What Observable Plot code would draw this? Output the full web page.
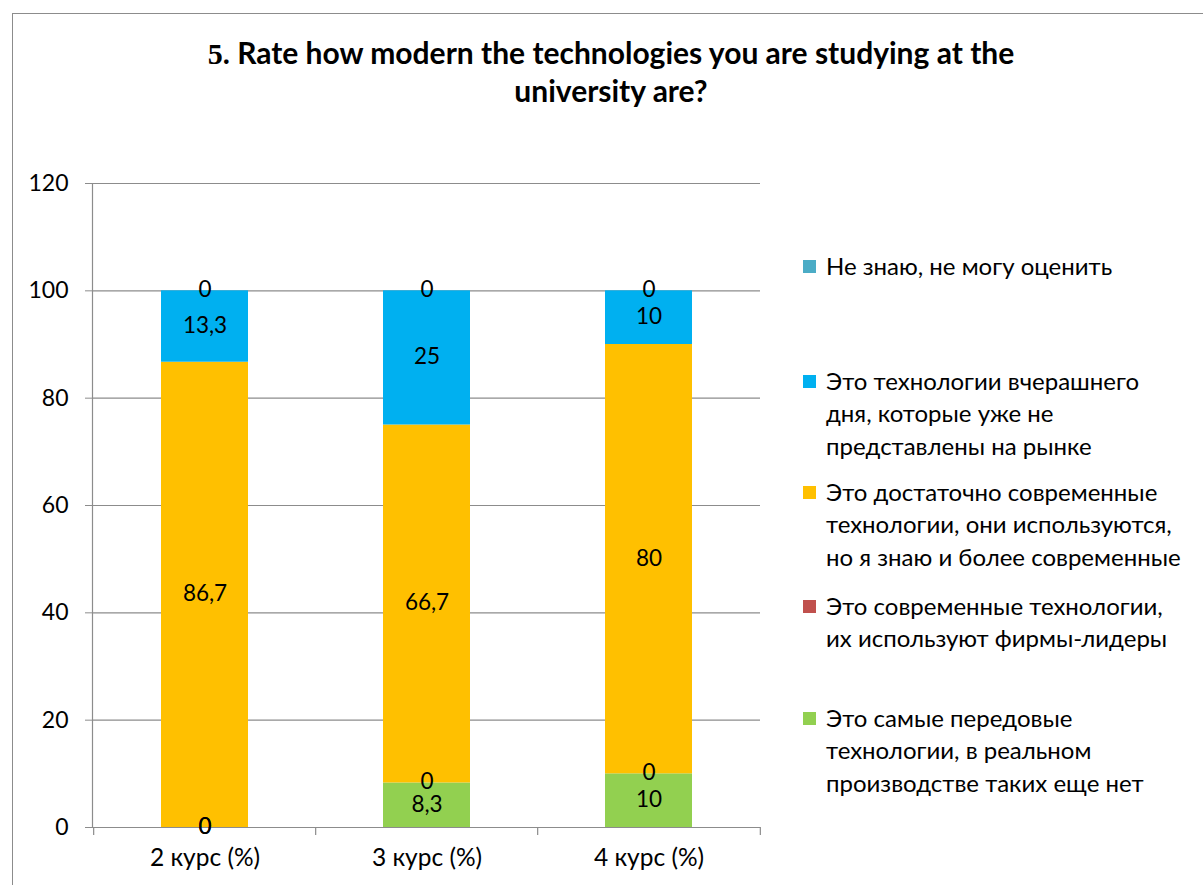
<!DOCTYPE html>
<html><head><meta charset="utf-8">
<script src="https://cdn.jsdelivr.net/npm/d3@7"></script>
<script src="https://cdn.jsdelivr.net/npm/@observablehq/plot@0.6"></script>
<style>
body{margin:0;background:#fff;font-family:Lato, "Open Sans", sans-serif;}
#wrap{position:relative;width:1203px;height:885px;overflow:hidden;background:#fff;}
#frame{position:absolute;left:12px;top:13px;width:1300px;height:1000px;border-left:1px solid #8c8c8c;border-top:1px solid #8c8c8c;}
#title{position:absolute;left:0;width:1222px;top:34px;text-align:center;font-weight:bold;font-size:30px;line-height:37px;color:#000;}
#title .num{font-family:"Liberation Serif", serif;}
#chart{position:absolute;left:0;top:150px;}
.leg{position:absolute;left:826px;font-size:24px;line-height:32.5px;white-space:pre-line;color:#000}
.sw{position:absolute;left:803px;width:13px;height:13px}
#chart svg g[aria-label="y-axis tick label"] text{font-size:23px;}
#chart svg g[aria-label="x-axis tick label"] text{font-size:24.5px;}
</style></head>
<body><div id="wrap"><div id="frame"></div>
<div id="title"><span class="num">5</span>. Rate how modern the technologies you are studying at the<br>university are?</div>
<div id="chart"></div></div>
<script>
// categories
const categories = ["2 курс (%)", "3 курс (%)", "4 курс (%)"];
// series, bottom to top of stack
const seriesNames = [
  "Это самые передовые\nтехнологии, в реальном\nпроизводстве таких еще нет",
  "Это современные технологии,\nих используют фирмы-лидеры",
  "Это достаточно современные\nтехнологии, они используются,\nно я знаю и более современные",
  "Это технологии вчерашнего\nдня, которые уже не\nпредставлены на рынке",
  "Не знаю, не могу оценить"
];
const seriesColors = ["#92D050", "#C0504D", "#FFC000", "#00B0F0", "#4BACC6"];
const greenValues  = [0, 8.3, 10];
const redValues    = [0, 0, 0];
const yellowValues = [86.7, 66.7, 80];
const blueValues   = [13.3, 25, 10];
const tealValues   = [0, 0, 0];
const yTicks = [0, 20, 40, 60, 80, 100, 120];

const seriesValues = [greenValues, redValues, yellowValues, blueValues, tealValues];
const data = [];
seriesNames.forEach((s, si) => categories.forEach((c, ci) => data.push({cat: c, series: s, value: seriesValues[si][ci]})));
const fmt = v => String(v).replace(".", ",");

const W = 1203, H = 735, mL = 92, mR = 443, mT = 33, mB = 58;
const step = (W - mL - mR) / categories.length;
const innerH = H - mT - mB;

const chart = Plot.plot({
  width: W, height: H, marginLeft: mL, marginRight: mR, marginTop: mT, marginBottom: mB,
  style: {fontFamily: "Lato, 'Open Sans', sans-serif", fontSize: "20px", color: "#000", background: "transparent", overflow: "visible"},
  x: {domain: categories, paddingInner: 0.61, paddingOuter: 0.305, label: null},
  y: {domain: [0, 120], label: null},
  color: {domain: seriesNames, range: seriesColors},
  marks: [
    Plot.ruleY(yTicks, {stroke: "#8c8c8c", strokeWidth: 1.2}),
    Plot.barY(data, Plot.stackY({x: "cat", y: "value", fill: "series", order: seriesNames})),
    Plot.textY(data, Plot.stackY({x: "cat", y: "value", z: "series", order: seriesNames, text: d => fmt(d.value), fontSize: 22.5, fill: "#000", lineHeight: 0.9})),
    Plot.frame({anchor: "left", stroke: "#8c8c8c", strokeWidth: 1.2}),
    Plot.ruleX(categories, {x: d => d, dx: -step / 2, insetTop: innerH, insetBottom: -8, stroke: "#8c8c8c", strokeWidth: 1.2}),
    Plot.ruleX(categories.slice(-1), {x: d => d, dx: step / 2, insetTop: innerH, insetBottom: -8, stroke: "#8c8c8c", strokeWidth: 1.2}),
    Plot.axisY(yTicks, {tickSize: 7, tickPadding: 17, fontSize: 23, stroke: "#8c8c8c", fill: "#000"}),
    Plot.axisX({tickSize: 0, tickPadding: 21, fontSize: 24.5, fill: "#000"})
  ]
});
document.getElementById("chart").appendChild(chart);

// legend (top item first)
const legendCenters = [266, 381, 492, 606, 718];
const wrap = document.getElementById("wrap");
seriesNames.slice().reverse().forEach((name, i) => {
  const color = seriesColors[seriesColors.length - 1 - i];
  const sw = document.createElement("div");
  sw.className = "sw"; sw.style.background = color; sw.style.top = (legendCenters[i] - 6.5) + "px";
  const t = document.createElement("div");
  t.className = "leg"; t.textContent = name; t.style.top = (legendCenters[i] - 16.25) + "px";
  wrap.appendChild(sw); wrap.appendChild(t);
});
</script>
</body></html>
